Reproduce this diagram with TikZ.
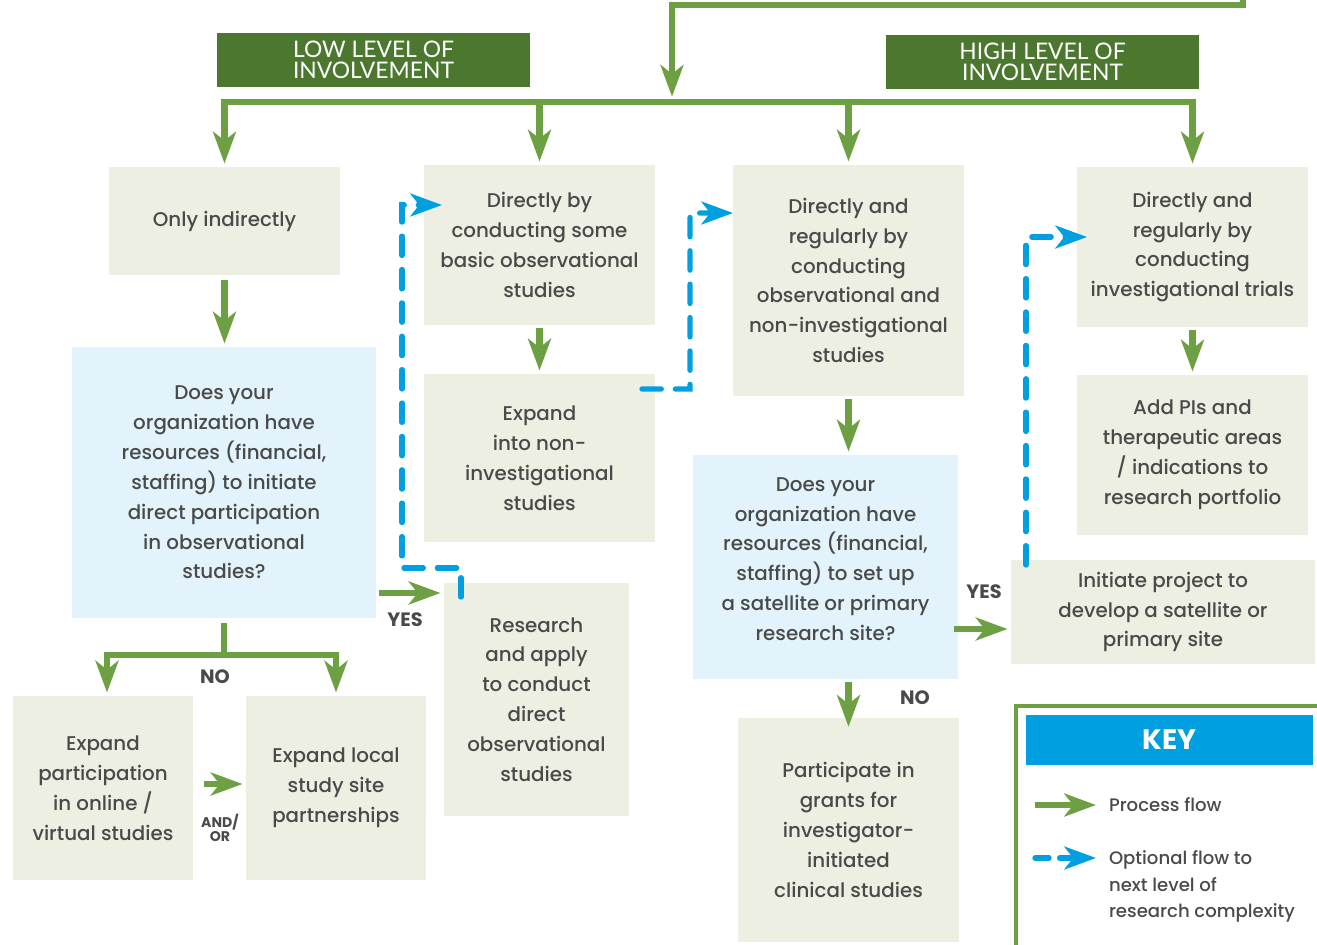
\documentclass[tikz,border=0pt]{standalone}
\usepackage{fontspec}
\setmainfont{Poppins}[UprightFont={* Medium}, BoldFont={* Bold}]
\newfontfamily\hdrfont{Lato}
\usetikzlibrary{arrows.meta,calc}
\definecolor{boxgreen}{HTML}{ECEFE2}
\definecolor{boxblue}{HTML}{E3F3FB}
\definecolor{hdrgreen}{HTML}{4B772E}
\definecolor{flowgreen}{HTML}{6DA043}
\definecolor{optblue}{HTML}{009FDF}
\definecolor{txtgray}{HTML}{4A4A4A}
\begin{document}
\begin{tikzpicture}[x=0.02cm,y=-0.02cm,
  every node/.style={inner sep=0pt, outer sep=0pt},
  card/.style={fill=boxgreen, text=txtgray, align=center, font=\fontsize{11.3}{17}\selectfont},
  ask/.style={card, fill=boxblue},
  hdr/.style={fill=hdrgreen, text=white, align=center, minimum width=6.26cm, minimum height=1.08cm, font=\hdrfont\fontsize{13}{12.2}\selectfont},
  flowline/.style={draw=flowgreen, line width=3.5pt},
  flow/.style={flowline, -{Stealth[length=18pt,width=13pt,inset=5pt]}},
  opt/.style={draw=optblue, line width=3pt, line cap=round, dash pattern=on 11pt off 8pt, -{Stealth[length=18pt,width=13pt,inset=5pt]}},
  tag/.style={text=txtgray, font=\bfseries\fontsize{11}{11}\selectfont},
  keytext/.style={text=txtgray, align=left, anchor=west, font=\fontsize{10.3}{15}\selectfont}
]
\useasboundingbox (0,0) rectangle (1317,945);

% level headers
\node[hdr] (low) at (373.5,60) {LOW LEVEL OF\\INVOLVEMENT};
\node[hdr] (high) at (1042.5,62) {HIGH LEVEL OF\\INVOLVEMENT};

% first row: ways of involvement
\node[card, minimum width=4.62cm, minimum height=2.16cm] (only) at (224.5,221) {Only indirectly};
\node[card, minimum width=4.62cm, minimum height=3.2cm] (basic) at (539.5,245) {Directly by\\conducting some\\basic observational\\studies};
\node[card, minimum width=4.62cm, minimum height=4.62cm] (regular) at (848.5,280.5) {Directly and\\regularly by\\conducting\\observational and\\non-investigational\\studies};
\node[card, minimum width=4.62cm, minimum height=3.2cm] (trials) at (1192.5,247) {Directly and\\regularly by\\conducting\\investigational trials};

% questions
\node[ask, minimum width=6.08cm, minimum height=5.42cm] (q1) at (224,482.5) {Does your\\organization have\\resources (financial,\\staffing) to initiate\\direct participation\\in observational\\studies?};
\node[ask, minimum width=5.3cm, minimum height=4.48cm] (q2) at (825.5,567) {};
\node[card, fill=none] (q2text) at ($(q2.center)+(0,-8)$) {Does your\\organization have\\resources (financial,\\staffing) to set up\\a satellite or primary\\research site?};

% follow-up steps
\node[card, minimum width=4.62cm, minimum height=3.36cm] (expand) at (539.5,458) {Expand\\into non-\\investigational\\studies};
\node[card, minimum width=3.7cm, minimum height=4.66cm] (research) at (536.5,699.5) {Research\\and apply\\to conduct\\direct\\observational\\studies};
\node[card, minimum width=4.62cm, minimum height=3.2cm] (addpi) at (1192.5,455) {Add PIs and\\therapeutic areas\\/ indications to\\research portfolio};
\node[card, minimum width=6.08cm, minimum height=2.08cm] (initiate) at (1163,612) {Initiate project to\\develop a satellite or\\primary site};
\node[card, minimum width=3.6cm, minimum height=3.68cm] (online) at (103,788) {Expand\\participation\\in online /\\virtual studies};
\node[card, minimum width=3.6cm, minimum height=3.68cm] (local) at (336,788) {Expand local\\study site\\partnerships};
\node[card, minimum width=4.42cm, minimum height=4.48cm] (grants) at (848.5,830) {Participate in\\grants for\\investigator-\\initiated\\clinical studies};

% entry line and distribution bus
\coordinate (entry) at (1243,0);
\coordinate (drop) at (672,5);
\coordinate (bus) at (672,102);
\draw[flow, shorten >=3pt] (entry) |- (drop) -- (bus);
\draw[flow, shorten >=2pt] (bus) -| (only.north);
\draw[flow, shorten >=2pt] (bus) -| (trials.north);
\draw[flow, shorten >=2pt] (basic.north |- bus) -- (basic.north);
\draw[flow, shorten >=2pt] (regular.north |- bus) -- (regular.north);

% process flow
\draw[flow, shorten <=3pt, shorten >=2pt] (only.south) -- (only.south |- q1.north);
\draw[flow, shorten <=2pt, shorten >=2pt] (basic.south) -- (expand.north);
\draw[flow, shorten <=2pt, shorten >=2pt] (trials.south) -- (addpi.north);
\draw[flow, shorten <=2pt, shorten >=2pt] (regular.south) -- (regular.south |- q2.north);

% first question: answers
\coordinate (nojoin) at ($(q1.south)+(0,37)$);
\draw[flowline, shorten <=3pt] (q1.south) -- (nojoin);
\draw[flow, shorten >=2pt] (nojoin) -| ($(online.north)+(4,0)$);
\draw[flow, shorten >=2pt] (nojoin) -| (local.north);
\node[tag] (no1) at (215,677) {NO};
\coordinate (yes1) at (0,593);
\draw[flow, shorten <=2pt, shorten >=2pt] (q1.east |- yes1) -- (research.west |- yes1);
\node[tag] (yes1t) at (405,620) {YES};
\coordinate (andor) at (0,784);
\draw[flow, shorten <=6pt, shorten >=2pt] (online.east |- andor) -- (local.west |- andor);
\node[tag, align=center, font=\bfseries\fontsize{8}{8}\selectfont] (andort) at (220,828) {AND/\\OR};

% second question: answers
\coordinate (yes2) at (0,629);
\draw[flow, shorten <=-2pt, shorten >=2pt] (q2.east |- yes2) -- (initiate.west |- yes2);
\node[tag] (yes2t) at (984,592) {YES};
\draw[flow, shorten <=2pt, shorten >=-5pt] (grants.north |- q2.south) -- (grants.north);
\node[tag] (no2t) at (915,698) {NO};

% optional flows to the next level
\draw[opt] ($(research.north west)+(17,14)$) |- (402,568) |- ($(basic.north west)+(18,40)$);
\draw[opt] ($(expand.north east)+(-13,15)$) -| (690,213) -- ($(regular.north west)+(0,48)$);
\draw[opt] ($(initiate.north west)+(15,5)$) |- ($(trials.north west)+(10,70)$);

% key
\coordinate (keycorner) at (1016,706);
\draw[flowline, line width=2.3pt] (1016,950) -- (keycorner) -- (1320,706);
\node[fill=optblue, text=white, minimum width=5.74cm, minimum height=1cm, font=\bfseries\fontsize{16}{16}\selectfont] (key) at (1169.5,740) {KEY};
\coordinate (k1a) at (1035,805);
\coordinate (k1b) at (1096,805);
\draw[flow] (k1a) -- (k1b);
\node[keytext] (k1) at (1109,805) {Process flow};
\coordinate (k2a) at (1035,858);
\coordinate (k2b) at (1096,858);
\draw[opt, dash pattern=on 8pt off 6pt] (k2a) -- (k2b);
\node[keytext, anchor=north west] (k2) at (1109,851) {Optional flow to\\next level of\\research complexity};
\end{tikzpicture}
\end{document}
